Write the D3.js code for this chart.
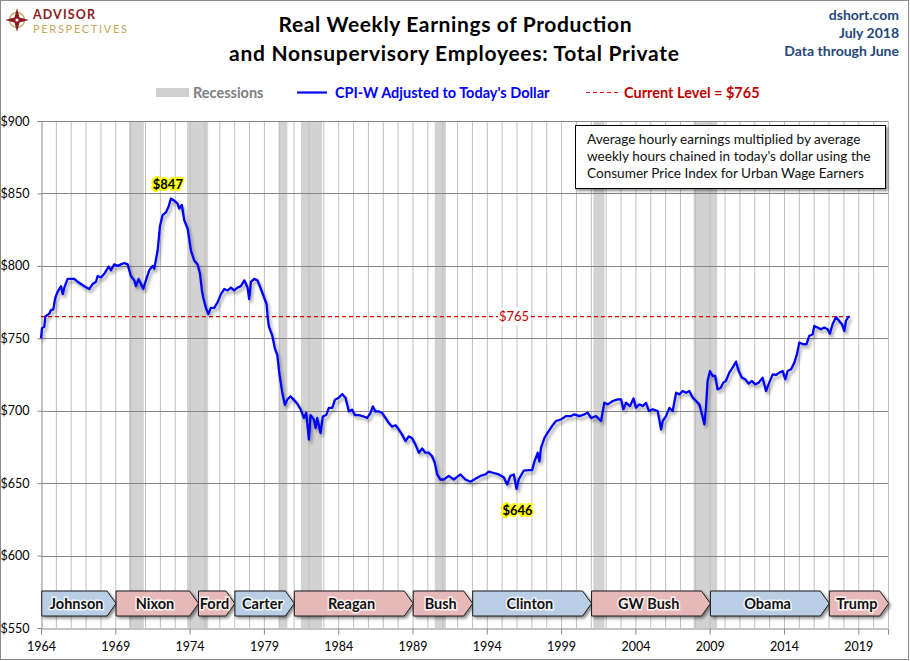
<!DOCTYPE html>
<html>
<head>
<meta charset="utf-8">
<script src="https://cdn.jsdelivr.net/npm/d3@7"></script>
<style>
	body { margin: 0; background: #fff; }
	text { font-family: Lato, "Open Sans", sans-serif; }
</style>
</head>
<body>
<div id="chart"></div>
<script>

///////////////////////////////
// 	          Data           //
///////////////////////////////

// decimal year of each reading
var dates = [
	1964.00, 1964.07, 1964.22, 1964.29, 1964.56, 1964.67, 1964.83, 1964.96, 1965.12, 1965.35,
	1965.46, 1965.57, 1965.79, 1966.02, 1966.24, 1966.47, 1966.69, 1966.91, 1967.25, 1967.48,
	1967.70, 1967.81, 1968.04, 1968.26, 1968.55, 1968.71, 1968.93, 1969.16, 1969.38, 1969.61,
	1969.83, 1969.94, 1970.05, 1970.28, 1970.39, 1970.57, 1970.73, 1970.88, 1971.06, 1971.29,
	1971.51, 1971.62, 1971.85, 1972.00, 1972.18, 1972.41, 1972.59, 1972.74, 1972.97, 1973.19,
	1973.30, 1973.48, 1973.64, 1973.87, 1974.09, 1974.31, 1974.54, 1974.70, 1974.83, 1974.92,
	1975.10, 1975.26, 1975.43, 1975.66, 1975.88, 1976.11, 1976.33, 1976.56, 1976.78, 1977.00,
	1977.23, 1977.45, 1977.68, 1977.90, 1978.01, 1978.13, 1978.35, 1978.57, 1978.80, 1979.02,
	1979.18, 1979.26, 1979.34, 1979.56, 1979.74, 1979.90, 1980.05, 1980.23, 1980.41, 1980.57,
	1980.79, 1981.02, 1981.24, 1981.47, 1981.69, 1981.85, 1982.03, 1982.14, 1982.36, 1982.48,
	1982.59, 1982.81, 1982.97, 1983.19, 1983.37, 1983.60, 1983.78, 1984.04, 1984.27, 1984.49,
	1984.72, 1984.94, 1985.12, 1985.39, 1985.73, 1985.95, 1986.17, 1986.33, 1986.51, 1986.74,
	1986.96, 1987.18, 1987.41, 1987.63, 1987.86, 1988.08, 1988.30, 1988.53, 1988.75, 1988.98,
	1989.20, 1989.43, 1989.65, 1989.87, 1990.10, 1990.32, 1990.50, 1990.66, 1990.88, 1991.11,
	1991.44, 1991.78, 1992.23, 1992.56, 1992.90, 1993.24, 1993.57, 1993.91, 1994.13, 1994.47,
	1994.81, 1995.14, 1995.37, 1995.59, 1995.82, 1996.00, 1996.15, 1996.49, 1996.82, 1997.05,
	1997.21, 1997.43, 1997.54, 1997.65, 1997.88, 1998.10, 1998.39, 1998.66, 1999.00, 1999.34,
	1999.67, 1999.90, 2000.23, 2000.57, 2000.79, 2001.02, 2001.35, 2001.69, 2001.91, 2002.14,
	2002.48, 2002.81, 2003.04, 2003.19, 2003.37, 2003.64, 2003.87, 2004.04, 2004.27, 2004.49,
	2004.72, 2004.90, 2005.17, 2005.50, 2005.73, 2005.84, 2006.06, 2006.29, 2006.51, 2006.74,
	2006.96, 2007.18, 2007.41, 2007.63, 2007.86, 2008.08, 2008.30, 2008.48, 2008.64, 2008.75,
	2008.86, 2009.02, 2009.20, 2009.37, 2009.53, 2009.75, 2009.92, 2010.09, 2010.32, 2010.54,
	2010.77, 2010.95, 2011.17, 2011.39, 2011.62, 2011.84, 2012.06, 2012.30, 2012.56, 2012.79,
	2013.01, 2013.24, 2013.46, 2013.69, 2013.91, 2014.09, 2014.25, 2014.48, 2014.70, 2014.87,
	2015.03, 2015.30, 2015.52, 2015.70, 2015.93, 2016.04, 2016.26, 2016.48, 2016.71, 2016.94,
	2017.09, 2017.27, 2017.50, 2017.72, 2017.90, 2018.06, 2018.17, 2018.30, 2018.42
];

// real weekly earnings, today's dollars
var earnings = [
	750, 757, 758, 765, 767, 769.5, 770, 778, 782, 786,
	780.5, 785, 791, 791, 791, 789, 787.5, 786, 784, 787.5,
	789, 793, 792, 794.5, 799.5, 797, 801, 800, 801, 802,
	801, 797, 793, 790, 786, 791, 787.5, 784, 790, 797,
	800, 798, 810.6, 827, 835, 837, 841, 846.5, 845, 843,
	839.6, 842, 831.5, 825.7, 810.6, 803.7, 801, 794.5, 783, 778,
	771, 766.7, 771, 771, 774.8, 780.5, 784, 783, 785, 783,
	785, 786, 790, 785, 777, 789, 791, 790, 784, 778,
	773.6, 764, 758, 752, 743, 738.5, 725, 713, 704, 707.5,
	710, 707.5, 705, 701, 695, 698.5, 680, 697, 694, 688,
	695, 684.6, 696, 697, 702, 702, 707.5, 709, 711.5, 709,
	699.5, 700.7, 697, 697, 696, 695, 698.4, 703, 699.5, 699.5,
	698.4, 695, 691.5, 689, 690, 687, 683.5, 679, 682.3, 681,
	676.6, 671, 674, 671, 671, 668.6, 664, 656, 652.5, 652.5,
	655, 652.5, 656, 652.5, 651, 653, 655, 656, 658, 657,
	656, 654, 649, 655, 656, 646, 652.5, 658.7, 659, 659,
	665, 671, 665, 674.4, 681.3, 684.8, 689.4, 692.9, 694, 696.3,
	696.3, 697.5, 696.3, 697.5, 698.6, 695, 696.3, 692.9, 705.5, 704.4,
	706.7, 707.8, 707.8, 700.9, 705.5, 703.2, 708.5, 702, 704.4, 703.2,
	705.5, 699.8, 701, 699.8, 687, 692.9, 696.3, 702, 699.8, 712.4,
	711.3, 713.6, 712.4, 713.6, 709, 706.7, 704.4, 697.5, 690.6, 702,
	720.5, 727.4, 724, 724, 714.7, 715.9, 719.4, 720.5, 726.3, 729.7,
	733.9, 727.4, 722.8, 721.7, 718.7, 720.5, 718.2, 719.4, 722.8, 713.6,
	719.4, 725.1, 724.7, 726.3, 727.4, 721.7, 727.4, 728.6, 733.2, 738.9,
	747, 745.9, 745.9, 751.6, 752.8, 758.5, 757.4, 756.2, 757.4, 756.2,
	753.2, 759.7, 764.7, 762, 759.7, 755, 762, 764.3, 765
];

// recessions (start, end)
var recessionStarts = [1969.92, 1973.83, 1980.0, 1981.5, 1990.5, 2001.17, 2007.92];
var recessionEnds   = [1970.92, 1975.25, 1980.58, 1982.92, 1991.25, 2001.92, 2009.5];

// presidents
var presidents     = ["Johnson", "Nixon", "Ford", "Carter", "Reagan", "Bush", "Clinton", "GW Bush", "Obama", "Trump"];
var presidentStart = [1964.05, 1969.05, 1974.6, 1977.05, 1981.05, 1989.05, 1993.05, 2001.05, 2009.05, 2017.05];
var presidentEnd   = [1969.05, 1974.6, 1977.05, 1981.05, 1989.05, 1993.05, 2001.05, 2009.05, 2017.05, 2021.05];
var presidentParty = ["D", "R", "R", "D", "R", "R", "D", "R", "D", "R"];

var yTicks = [550, 600, 650, 700, 750, 800, 850, 900];
var xTicks = [1964, 1969, 1974, 1979, 1984, 1989, 1994, 1999, 2004, 2009, 2014, 2019];

var currentLevel = 765;
var peakValue = 847, peakDate = 1972.74;
var lowValue = 646, lowDate = 1996.00;

var noteLines = [
	"Average hourly earnings multiplied by average",
	"weekly hours chained in today's dollar using the",
	"Consumer Price Index for Urban Wage Earners"
];


///////////////////////////////
// 	         Layout          //
///////////////////////////////

var width = 910, height = 661;
var plot = { left: 41, right: 888, top: 121, bottom: 628 };

var x = d3.scaleLinear().domain([1964, 2021]).range([plot.left, plot.right]);
var y = d3.scaleLinear().domain([550, 900]).range([plot.bottom, plot.top]);

var svg = d3.select("#chart").append("svg")
	.attr("width", width)
	.attr("height", height);

var defs = svg.append("defs");

// shadows (line, boxes)
defs.append("filter").attr("id", "lineShadow")
	.attr("x", "-5%").attr("y", "-5%").attr("width", "110%").attr("height", "110%")
	.append("feDropShadow")
	.attr("dx", 2).attr("dy", 3).attr("stdDeviation", 1.4)
	.attr("flood-color", "#000").attr("flood-opacity", 0.35);

defs.append("filter").attr("id", "boxShadow")
	.attr("x", "-10%").attr("y", "-20%").attr("width", "130%").attr("height", "160%")
	.append("feDropShadow")
	.attr("dx", 2).attr("dy", 2).attr("stdDeviation", 1.5)
	.attr("flood-color", "#000").attr("flood-opacity", 0.45);

svg.append("rect")
	.attr("x", 0.5).attr("y", 0.5)
	.attr("width", width - 2).attr("height", height - 2)
	.style("fill", "#fff")
	.style("stroke", "#8a8a8a");

// Recession bands
svg.append("g").selectAll("rect")
	.data(recessionStarts).enter()
	.append("rect")
	.attr("x", function(d) { return x(d) })
	.attr("y", plot.top)
	.attr("width", function(d, i) { return x(recessionEnds[i]) - x(d) })
	.attr("height", plot.bottom - plot.top)
	.style("fill", "#d2d2d2");

// Grid: one vertical line per year, horizontal every $50
svg.append("g").selectAll("line")
	.data(d3.range(1965, 2022)).enter()
	.append("line")
	.attr("x1", function(d) { return x(d) + 0.5 })
	.attr("x2", function(d) { return x(d) + 0.5 })
	.attr("y1", plot.top)
	.attr("y2", plot.bottom)
	.style("stroke", "#bfbfbf")
	.style("stroke-width", 1);

svg.append("g").selectAll("line")
	.data(yTicks.slice(1)).enter()
	.append("line")
	.attr("x1", plot.left)
	.attr("x2", plot.right)
	.attr("y1", function(d) { return Math.round(y(d)) + 0.5 })
	.attr("y2", function(d) { return Math.round(y(d)) + 0.5 })
	.style("stroke", "#868686")
	.style("stroke-width", 1);

// Axes
var xAxis = svg.append("g")
	.attr("transform", "translate(0," + (plot.bottom + 0.5) + ")")
	.call(d3.axisBottom(x).tickValues(xTicks).tickFormat(d3.format("d")).tickSize(6).tickPadding(5));

var yAxis = svg.append("g")
	.attr("transform", "translate(" + (plot.left + 0.5) + ",0)")
	.call(d3.axisLeft(y).tickValues(yTicks).tickFormat(function(d) { return "$" + d }).tickSize(4).tickPadding(8));

[xAxis, yAxis].forEach(function(a) {
	a.select(".domain").style("stroke", "#868686");
	a.selectAll(".tick line").style("stroke", "#868686");
	a.selectAll(".tick text")
		.style("font-family", "Lato, sans-serif")
		.style("font-size", "12.5px")
		.style("fill", "#000");
});
yAxis.selectAll(".tick text").attr("x", -12).attr("text-anchor", "end").attr("dx", 0);
xAxis.selectAll(".tick text").attr("dy", "0.9em");

// President pentagons
var pres = svg.append("g").selectAll("g")
	.data(presidents).enter()
	.append("g");

var boxTop = 591, boxBottom = 616, tip = 9;

pres.append("path")
	.attr("d", function(d, i) {
		var x0 = x(presidentStart[i]), x1 = x(presidentEnd[i]);
		var mid = (boxTop + boxBottom) / 2;
		return "M" + x0 + "," + boxTop + "L" + (x1 - tip) + "," + boxTop + "L" + x1 + "," + mid +
			"L" + (x1 - tip) + "," + boxBottom + "L" + x0 + "," + boxBottom + "Z";
	})
	.style("fill", function(d, i) { return presidentParty[i] == "D" ? "#b9cde5" : "#e6b9b8" })
	.style("stroke", "#1a1a1a")
	.style("stroke-width", 1)
	.attr("filter", "url(#boxShadow)");

pres.append("text")
	.attr("x", function(d, i) { return (x(presidentStart[i]) + x(presidentEnd[i]) - tip / 2) / 2 })
	.attr("y", (boxTop + boxBottom) / 2 + 5)
	.attr("text-anchor", "middle")
	.style("font-size", "14.5px")
	.style("font-weight", "bold")
	.style("fill", "#111")
	.style("stroke", "#fff")
	.style("stroke-width", 3)
	.style("stroke-opacity", 0.8)
	.style("paint-order", "stroke")
	.text(function(d) { return d });

// Current level line
var lastDate = dates[dates.length - 1];

svg.append("line")
	.attr("x1", plot.left)
	.attr("x2", x(lastDate))
	.attr("y1", y(currentLevel))
	.attr("y2", y(currentLevel))
	.style("stroke", "#e00000")
	.style("stroke-width", 1.2)
	.style("stroke-dasharray", "4,3");

svg.append("rect")
	.attr("x", 498).attr("y", y(currentLevel) - 9)
	.attr("width", 33).attr("height", 18)
	.style("fill", "#fff");

svg.append("text")
	.attr("x", 514).attr("y", y(currentLevel) + 4.5)
	.attr("text-anchor", "middle")
	.style("font-size", "13px")
	.style("fill", "#c00000")
	.text("$" + currentLevel);

// Earnings line
var line = d3.line()
	.x(function(d, i) { return x(dates[i]) })
	.y(function(d) { return y(d) });

svg.append("path")
	.datum(earnings)
	.attr("d", line)
	.style("fill", "none")
	.style("stroke", "#0000ff")
	.style("stroke-width", 2.3)
	.style("stroke-linejoin", "round")
	.attr("filter", "url(#lineShadow)");

// Peak / low labels with yellow glow
function glowLabel(px, py, txt) {
	svg.append("text")
		.attr("x", px).attr("y", py)
		.attr("text-anchor", "middle")
		.style("font-size", "13px")
		.style("font-weight", "bold")
		.style("fill", "#000")
		.style("stroke", "#ffff00")
		.style("stroke-width", 4)
		.style("stroke-linejoin", "round")
		.style("paint-order", "stroke")
		.text(txt);
}
glowLabel(x(peakDate) - 3, y(peakValue) - 9, "$" + peakValue);
glowLabel(x(lowDate) + 1, y(lowValue) + 26, "$" + lowValue);

// Note box
svg.append("rect")
	.attr("x", 575.5).attr("y", 125.5)
	.attr("width", 310).attr("height", 63)
	.style("fill", "#fff")
	.style("stroke", "#000")
	.style("stroke-width", 1)
	.attr("filter", "url(#boxShadow)");

svg.append("g").selectAll("text")
	.data(noteLines).enter()
	.append("text")
	.attr("x", 587)
	.attr("y", function(d, i) { return 144 + i * 17 })
	.style("font-size", "13.6px")
	.style("fill", "#111")
	.text(function(d) { return d });

///////////////////////////////
// 	    Titles and legend    //
///////////////////////////////

var title = svg.append("g")
	.style("font-size", "21px")
	.style("font-weight", "bold")
	.style("fill", "#000")
	.attr("text-anchor", "middle");

title.append("text").attr("x", 455).attr("y", 32).attr("textLength", 353).text("Real Weekly Earnings of Production");
title.append("text").attr("x", 454).attr("y", 61).attr("textLength", 450).text("and Nonsupervisory Employees: Total Private");

var source = svg.append("g")
	.attr("text-anchor", "end")
	.style("font-size", "14px")
	.style("font-weight", "bold")
	.style("fill", "#24477a");

source.append("text").attr("x", 899).attr("y", 20).text("dshort.com");
source.append("text").attr("x", 899).attr("y", 38).text("July 2018");
source.append("text").attr("x", 899).attr("y", 56).text("Data through June");

// Legend
var legend = svg.append("g")
	.style("font-size", "14.5px")
	.style("font-weight", "bold");

legend.append("rect").attr("x", 156).attr("y", 88).attr("width", 33).attr("height", 9).style("fill", "#d0d0d0");
legend.append("text").attr("x", 193).attr("y", 97.5).style("fill", "#7f7f7f").text("Recessions");

legend.append("line").attr("x1", 297).attr("x2", 327).attr("y1", 92.5).attr("y2", 92.5)
	.style("stroke", "#0000ff").style("stroke-width", 2.2);
legend.append("text").attr("x", 335).attr("y", 97.5).style("fill", "#0000ff").text("CPI-W Adjusted to Today's Dollar");

legend.append("line").attr("x1", 586).attr("x2", 619).attr("y1", 92.5).attr("y2", 92.5)
	.style("stroke", "#e00000").style("stroke-width", 1.2).style("stroke-dasharray", "4,3");
legend.append("text").attr("x", 624).attr("y", 97.5).style("fill", "#c00000").text("Current Level = $" + currentLevel);

// Logo
var logo = svg.append("g");

logo.append("circle").attr("cx", 17).attr("cy", 20).attr("r", 7.5)
	.style("fill", "none").style("stroke", "#c9a55a").style("stroke-width", 1.4);
logo.append("path")
	.attr("d", "M17,8 L19.5,17.5 L29,20 L19.5,22.5 L17,32 L14.5,22.5 L5,20 L14.5,17.5 Z")
	.style("fill", "#8c1c22");
logo.append("circle").attr("cx", 17).attr("cy", 20).attr("r", 1.6).style("fill", "#fff");

logo.append("text").attr("x", 33).attr("y", 19)
	.style("font-size", "12.5px").style("font-weight", "bold").style("fill", "#8c1c22")
	.attr("textLength", 62).text("ADVISOR");
logo.append("text").attr("x", 33).attr("y", 33)
	.style("font-size", "11px").style("fill", "#c9a55a")
	.attr("textLength", 94).text("PERSPECTIVES");

</script>
</body>
</html>
